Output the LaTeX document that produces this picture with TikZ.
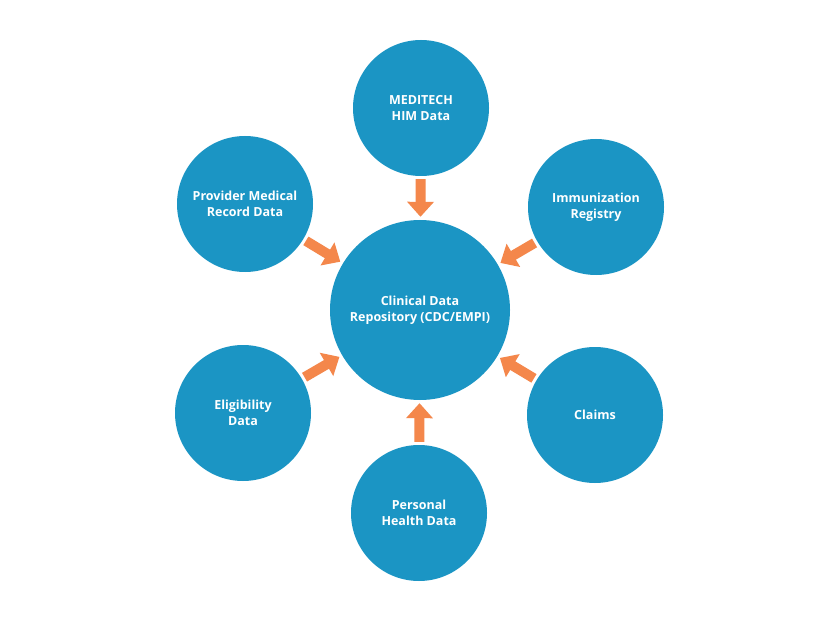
\documentclass[tikz,border=0pt]{standalone}
\usepackage{fontspec}
\setmainfont{Open Sans}
\usetikzlibrary{arrows.meta}
\definecolor{cblue}{HTML}{1B95C4}
\definecolor{corange}{HTML}{F4874B}
\begin{document}
\begin{tikzpicture}[x=1pt,y=-1pt,
  c/.style={circle,fill=cblue,inner sep=0pt,text=white,align=center,font=\bfseries\fontsize{12.5}{16}\selectfont},
  s/.style={c,minimum size=136pt},
  a/.style={draw=corange,line width=10pt,-{Triangle[length=15pt,width=26pt]},shorten <=3pt,shorten >=3pt}]
\useasboundingbox[fill=white] (0,0) rectangle (840,620);
\node[c,minimum size=180pt] (cdr) at (420,310) {Clinical Data\\Repository (CDC/EMPI)};
\node[s] (med) at (421,108) {MEDITECH\\HIM Data};
\node[s] (prov) at (245,204) {Provider Medical\\Record Data};
\node[s] (imm) at (596,207) {Immunization\\Registry};
\node[s] (elig) at (243,413) {Eligibility\\Data};
\node[s] (cl) at (595,415) {Claims};
\node[s] (pers) at (419,513) {Personal\\Health Data};
\foreach \n in {med,prov,imm,elig,cl,pers} \draw[a] (\n) -- (cdr);
\end{tikzpicture}
\end{document}
